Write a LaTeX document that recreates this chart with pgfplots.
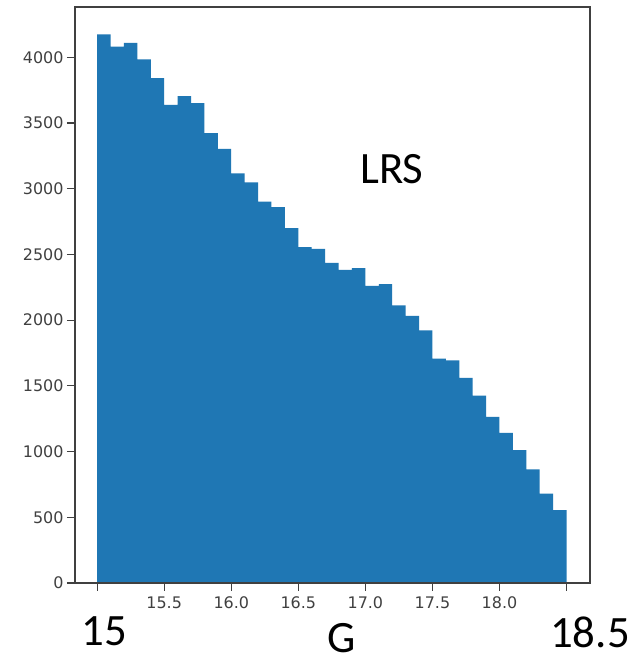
\documentclass[border=0pt]{standalone}
\usepackage{fontspec}
\setmainfont{DejaVu Sans}
\newfontfamily\calib{Carlito}
\usepackage{pgfplots}
\pgfplotsset{compat=1.18}
\definecolor{mplblue}{HTML}{1F77B4}
\begin{document}
\begin{tikzpicture}[x=1bp,y=1bp]
\path[use as bounding box, fill=white] (0,0) rectangle (636,665);
\begin{axis}[at={(75bp,82bp)}, anchor=south west, scale only axis,
  width=515bp, height=576bp,
  xmin=14.835, xmax=18.675, ymin=0, ymax=4383,
  xtick={15,15.5,16,16.5,17,17.5,18,18.5},
  xticklabels={,15.5,16.0,16.5,17.0,17.5,18.0,},
  ytick={0,500,1000,1500,2000,2500,3000,3500,4000},
  tick pos=left, tick align=outside, major tick length=8bp,
  tick style={black!75, line width=1.1bp},
  axis line style={black!75, line width=1.1bp},
  ticklabel style={font=\fontsize{16}{18}\selectfont, text=black!75},
  xticklabel style={yshift=-2bp},
  yticklabel style={/pgf/number format/1000 sep={}},
  /pgf/number format/assume math mode=true,
  axis on top,
]
\addplot[const plot, fill=mplblue, draw=none] coordinates {
(15.0,4174) (15.1,4081) (15.2,4109) (15.3,3985) (15.4,3841)
(15.5,3639) (15.6,3705) (15.7,3652) (15.8,3424) (15.9,3303)
(16.0,3117) (16.1,3048) (16.2,2902) (16.3,2861) (16.4,2700)
(16.5,2556) (16.6,2543) (16.7,2435) (16.8,2382) (16.9,2395)
(17.0,2261) (17.1,2274) (17.2,2112) (17.3,2033) (17.4,1922)
(17.5,1707) (17.6,1694) (17.7,1561) (17.8,1426) (17.9,1265)
(18.0,1143) (18.1,1011) (18.2,865) (18.3,681) (18.4,554)
(18.5,554)
} \closedcycle;
\end{axis}
\node[font=\calib\fontsize{45}{50}\selectfont] at (104,34) {15};
\node[font=\calib\fontsize{45}{50}\selectfont] at (590,33) {18.5};
\node[font=\calib\fontsize{45}{50}\selectfont] at (342,27) {G};
\node[font=\calib\fontsize{45}{50}\selectfont] at (392,496) {LRS};
\end{tikzpicture}
\end{document}
